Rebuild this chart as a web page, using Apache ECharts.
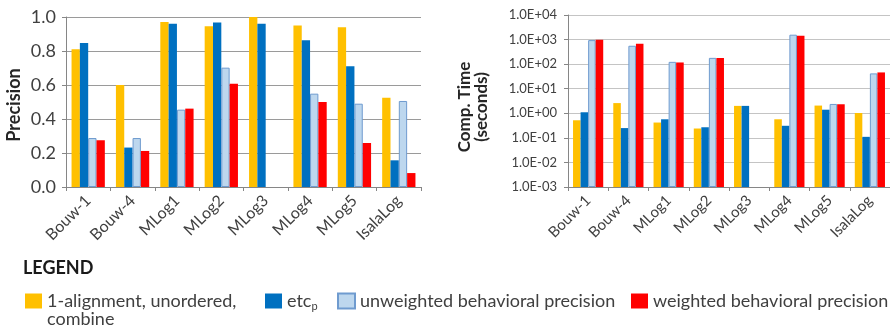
<!DOCTYPE html>
<html><head><meta charset="utf-8">
<script src="https://cdn.jsdelivr.net/npm/echarts@6/dist/echarts.min.js"></script>
<style>html,body{margin:0;padding:0;background:#fff}#c{width:890px;height:329px}</style>
</head><body><div id="c"></div>
<script>
const categories = ['Bouw-1','Bouw-4','MLog1','MLog2','MLog3','MLog4','MLog5','IsalaLog'];
const seriesNames = ['1-alignment, unordered, combine','etc_p','unweighted behavioral precision','weighted behavioral precision'];
// Precision (left chart)
const precAlign      = [0.81, 0.60, 0.97, 0.945, 1.00, 0.95, 0.94, 0.525];
const precEtc        = [0.847, 0.232, 0.961, 0.967, 0.961, 0.863, 0.71, 0.157];
const precUnweighted = [0.288, 0.288, 0.455, 0.702, null, 0.549, 0.49, 0.506];
const precWeighted   = [0.275, 0.212, 0.461, 0.608, null, 0.50, 0.259, 0.082];
// Computation time in seconds (right chart)
const timeAlign      = [0.52, 2.6, 0.42, 0.24, 2.0, 0.57, 2.06, 1.03];
const timeEtc        = [1.1, 0.25, 0.57, 0.27, 2.0, 0.31, 1.4, 0.11];
const timeUnweighted = [950, 560, 124, 180, null, 1580, 2.4, 42];
const timeWeighted   = [985, 670, 117, 176, null, 1440, 2.33, 46];

const colors = ['#FFC000', '#0070C0', '#BDD7EE', '#FF0000'];
const FONT = 'Lato';
const txt = '#404040';

const chart = echarts.init(document.getElementById('c'), null, {renderer: 'canvas'});

function mkSeries(data, i, gi) {
  const s = {
    name: seriesNames[i], type: 'bar', xAxisIndex: gi, yAxisIndex: gi, data: data,
    barGap: '0%', barCategoryGap: '25%', animation: false,
    itemStyle: {color: colors[i]}
  };
  if (i === 2) { s.itemStyle.borderColor = '#6F9BCF'; s.itemStyle.borderWidth = 1; }
  return s;
}

function logLabel(v) {
  const e = Math.round(Math.log10(v));
  return '1.0E' + (e >= 0 ? '+' : '-') + String(Math.abs(e)).padStart(2, '0');
}

const xAxisCommon = (fs) => ({
  type: 'category', data: categories,
  axisLine: {lineStyle: {color: '#868686'}},
  axisTick: {show: true, length: 4, alignWithLabel: false, lineStyle: {color: '#868686'}},
  axisLabel: {rotate: 45, interval: 0, margin: 11, padding: [8, 0, 0, 0], color: txt, fontFamily: FONT, fontSize: fs}
});

const legendBase = (name, left, extra) => Object.assign({
  data: [name], left: left, top: 292, itemWidth: 17, itemHeight: 15, icon: 'rect',
  selectedMode: false, padding: 0, itemGap: 0,
  textStyle: {fontFamily: FONT, fontSize: 18, color: txt}
}, extra || {});

chart.setOption({
  animation: false,
  textStyle: {fontFamily: FONT},
  grid: [
    {left: 66, top: 17, width: 355, height: 170, containLabel: false},
    {left: 568, top: 15, width: 325, height: 172, containLabel: false}
  ],
  xAxis: [
    Object.assign({gridIndex: 0}, xAxisCommon(16)),
    Object.assign({gridIndex: 1}, xAxisCommon(15))
  ],
  yAxis: [
    {gridIndex: 0, type: 'value', min: 0, max: 1, interval: 0.2,
     name: 'Precision', nameLocation: 'middle', nameGap: 43, nameRotate: 90,
     nameTextStyle: {fontFamily: FONT, fontSize: 18, fontWeight: 'bold', color: '#262626', padding: [0, 6, 0, 0]},
     axisLine: {show: true, lineStyle: {color: '#868686'}},
     axisTick: {show: true, length: 4, lineStyle: {color: '#868686'}},
     axisLabel: {formatter: v => v.toFixed(1), color: txt, fontFamily: FONT, fontSize: 18, margin: 10},
     splitLine: {lineStyle: {color: '#9A9A9A', width: 1}}},
    {gridIndex: 1, type: 'log', logBase: 10, min: 0.001, max: 10000, startValue: 0.001,
     name: 'Comp. Time\n(seconds)', nameLocation: 'middle', nameGap: 78, nameRotate: 90,
     nameTextStyle: {fontFamily: FONT, fontSize: 17, fontWeight: 'bold', color: '#262626', lineHeight: 17, padding: [0, 12, 0, 0]},
     axisLine: {show: true, lineStyle: {color: '#868686'}},
     axisTick: {show: true, length: 4, lineStyle: {color: '#868686'}},
     axisLabel: {formatter: logLabel, color: txt, fontFamily: FONT, fontSize: 13, margin: 11},
     splitLine: {lineStyle: {color: '#C4C4C4', width: 1}}}
  ],
  legend: [
    legendBase(seriesNames[0], 25, {formatter: () => '1-alignment, unordered,'}),
    legendBase(seriesNames[1], 265, {formatter: () => 'etc{s|p}',
      textStyle: {fontFamily: FONT, fontSize: 18, color: txt,
        rich: {s: {fontFamily: FONT, fontSize: 11, color: txt, padding: [10, 0, 0, 0]}}}}),
    legendBase(seriesNames[2], 337),
    legendBase(seriesNames[3], 631)
  ],
  graphic: [
    {type: 'text', left: 23, top: 259, style: {text: 'LEGEND', font: 'bold 18px ' + FONT, fill: '#1a1a1a'}},
    {type: 'text', left: 47, top: 310, style: {text: 'combine', font: '18px ' + FONT, fill: txt}}
  ],
  series: [
    mkSeries(precAlign, 0, 0), mkSeries(precEtc, 1, 0), mkSeries(precUnweighted, 2, 0), mkSeries(precWeighted, 3, 0),
    mkSeries(timeAlign, 0, 1), mkSeries(timeEtc, 1, 1), mkSeries(timeUnweighted, 2, 1), mkSeries(timeWeighted, 3, 1)
  ]
});
</script></body></html>
